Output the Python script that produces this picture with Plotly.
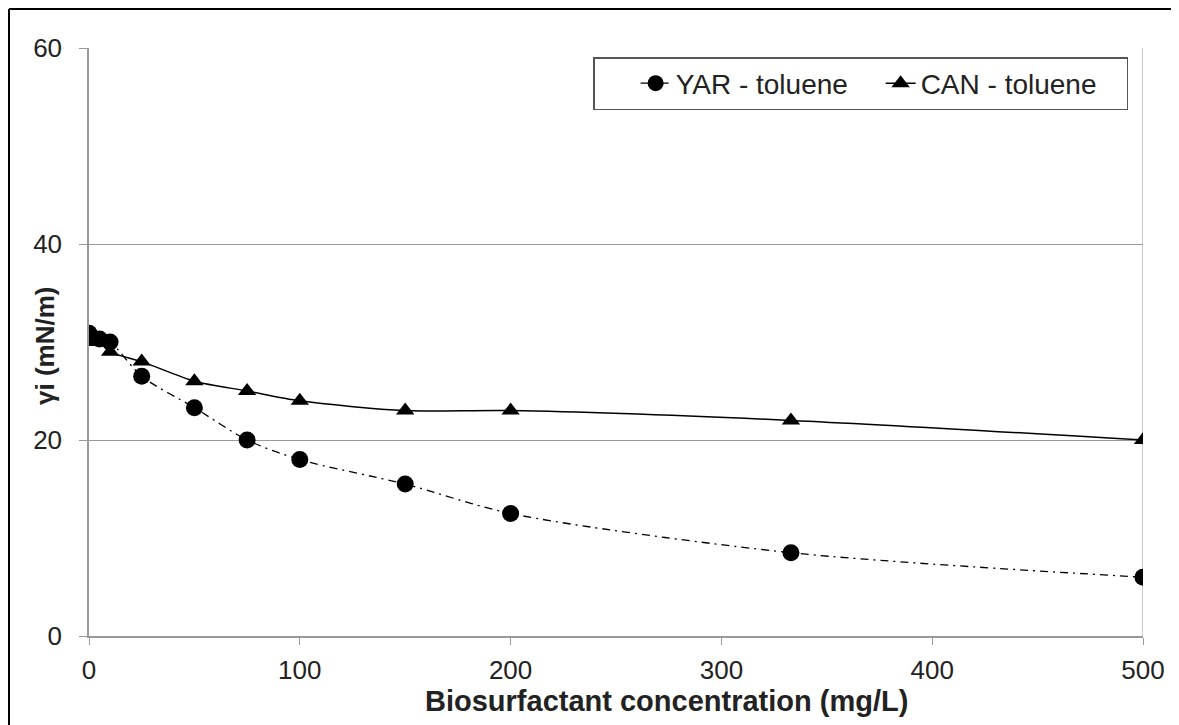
import plotly.graph_objects as go

conc_yar = [0, 5, 10, 25, 50, 75, 100, 150, 200, 333, 500]
yar_vals = [30.9, 30.3, 30.0, 26.5, 23.3, 20.0, 18.0, 15.5, 12.5, 8.5, 6.0]

conc_can = [0, 5, 10, 25, 50, 75, 100, 150, 200, 333, 500]
can_vals = [30.0, 30.0, 29.0, 28.0, 26.0, 25.0, 24.0, 23.0, 23.0, 22.0, 20.0]

x_ticks = [0, 100, 200, 300, 400, 500]
y_ticks = [0, 20, 40, 60]

x_title = "Biosurfactant concentration (mg/L)"
y_title = "γi (mN/m)"

FONT = "Liberation Sans, Arial, sans-serif"
TXT = "#222"

fig = go.Figure()
fig.add_trace(go.Scatter(
    x=conc_yar, y=yar_vals, name="YAR - toluene", mode="lines+markers",
    line=dict(color="black", width=1.3, dash="8px,5px,2px,5px", shape="spline", smoothing=0.8),
    marker=dict(symbol="circle", size=17, color="black"),
))
fig.add_trace(go.Scatter(
    x=conc_can, y=can_vals, name="CAN - toluene", mode="lines+markers",
    line=dict(color="black", width=1.5, shape="spline", smoothing=0.8),
    marker=dict(symbol="triangle-up", size=16, color="black"),
))

# page has an 8px body margin, so the figure is offset by 8px
L, R, T, B = 81, 44, 40, 97
W, H = 1179, 725
pw = W - L - R
ph = H - T - B

fig.update_layout(
    width=W, height=H,
    margin=dict(l=L, r=R, t=T, b=B),
    paper_bgcolor="white", plot_bgcolor="white",
    font=dict(family=FONT, size=26, color=TXT),
    showlegend=True,
    legend=dict(
        orientation="h", x=(1120 - L) / pw, xanchor="right",
        y=(H - B - 49) / ph, yanchor="top",
        bgcolor="white", bordercolor="#555", borderwidth=1.5,
        font=dict(family=FONT, size=28, color=TXT),
        itemwidth=30, tracegroupgap=0, entrywidth=200,
        title=dict(text="\u00a0\u00a0\u00a0\u00a0", side="left",
                   font=dict(family=FONT, size=28)),
    ),
    xaxis=dict(
        range=[0, 500], tickvals=x_ticks, ticks="outside", ticklen=7,
        tickcolor="#999", showline=True, linecolor="#999", linewidth=1.5,
        mirror=False, showgrid=False, zeroline=False,
        ticklabelstandoff=3,
        tickfont=dict(family=FONT, size=26, color=TXT),
    ),
    yaxis=dict(
        range=[0, 60], tickvals=y_ticks, ticks="outside", ticklen=8,
        tickcolor="#999", showline=True, linecolor="#999", linewidth=1.5,
        showgrid=True, gridcolor="#999", gridwidth=1.2, zeroline=False,
        ticklabelstandoff=12,
        tickfont=dict(family=FONT, size=26, color=TXT),
    ),
)

# axis titles placed as in the reference (x title is offset to the right)
fig.add_annotation(text="<b>" + x_title + "</b>", xref="paper", yref="paper",
                   x=(658 - L) / pw, y=(H - B - 693) / ph, xanchor="center",
                   yanchor="middle", showarrow=False,
                   font=dict(family=FONT, size=29, color=TXT))
fig.add_annotation(text="<b>" + y_title + "</b>", xref="paper", yref="paper",
                   x=(37 - L) / pw, y=(H - B - 338) / ph, xanchor="center",
                   yanchor="middle", showarrow=False, textangle=-90,
                   font=dict(family=FONT, size=26, color=TXT))

# right edge of plot area (gray vertical line at x=500)
fig.add_shape(type="line", xref="x", yref="y", x0=500, x1=500, y0=0, y1=60,
              line=dict(color="#bbb", width=1.5), layer="below")

# outer black frame of picture (left and top)
fx0 = (1 - L) / pw
fy0 = (H - B - 1) / ph
fig.add_shape(type="line", xref="paper", yref="paper", x0=fx0, x1=fx0,
              y0=fy0, y1=-(B + 10) / ph, line=dict(color="black", width=2))
fig.add_shape(type="line", xref="paper", yref="paper", x0=fx0,
              x1=(W + 10 - L) / pw, y0=fy0, y1=fy0, line=dict(color="black", width=2))

fig.write_html("out.html")
